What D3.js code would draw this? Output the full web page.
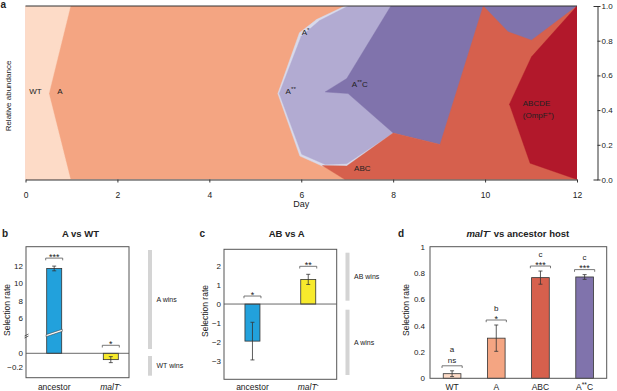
<!DOCTYPE html>
<html>
<head>
<meta charset="utf-8">
<script src="https://cdn.jsdelivr.net/npm/d3@7"></script>
<style>
  body { margin: 0; background: #fff; }
  svg { font-family: "Liberation Sans", Arial, sans-serif; }
</style>
</head>
<body>
<svg id="fig" width="617" height="391"></svg>
<script>
  // ---------- data ----------
  // panel a: Muller plot outlines, points are [day, relative abundance]
  var dayTicks = [0, 2, 4, 6, 8, 10, 12];
  var abundTicks = [0, 0.2, 0.4, 0.6, 0.8, 1];
  var shapeA = [[0, 0], [12, 0], [12, 1], [0, 1]];
  var shapeWT = [[0, 1], [0.98, 1], [0.51, 0.495], [0.98, 0], [0, 0]];
  var shapeAs = [[6.95, 1], [6.34, 0.923], [5.96, 0.846], [5.49, 0.495], [5.97, 0.135], [6.48, 0.075], [6.99, 0.072], [8.0, 0.268], [8.15, 1]];
  var shapeAss = [[7.02, 1], [6.4, 0.916], [6.0, 0.826], [5.52, 0.495], [6.01, 0.145], [6.52, 0.087], [6.99, 0.091], [8.0, 0.268], [8.15, 1]];
  var shapeAssC = [[7.95, 1], [6.99, 0.582], [6.52, 0.505], [7.02, 0.495], [8.0, 0.268], [9.02, 0.202], [12, 0], [12, 1]];
  var shapeABC = [[6.46, 0.08], [6.99, 0.078], [8.0, 0.268], [9.02, 0.202], [9.96, 1], [10.5, 0.851], [11.01, 0.803], [12, 1], [12, 0], [6.95, 0]];
  var shapeABCDE = [[12, 1], [11.01, 0.707], [10.53, 0.434], [10.98, 0.094], [12, 0]];

  // panel b: A vs WT
  var bCats = ['ancestor', 'malT'];
  var bMeans = [11.7, -0.095];
  var bErrs = [0.27, 0.045];
  var bStars = ['***', '*'];
  var bTicksHi = [6, 8, 10, 12];
  var bTicksLo = [-0.2, 0];

  // panel c: AB vs A
  var cCats = ['ancestor', 'malT'];
  var cMeans = [-1.97, 1.31];
  var cErrs = [1.0, 0.27];
  var cStars = ['*', '**'];
  var cTicks = [-3, -2, -1, 0, 1, 2];

  // panel d: malT- vs ancestor host
  var dCats = ['WT', 'A', 'ABC', 'A**C'];
  var dMeans = [0.035, 0.305, 0.765, 0.77];
  var dErrs = [0.022, 0.1, 0.05, 0.018];
  var dStars = ['ns', '*', '***', '***'];
  var dGroups = ['a', 'b', 'c', 'c'];
  var dTicks = [0, 0.2, 0.4, 0.6, 0.8, 1];

  var ink = '#222';
  var frame = '#555';
  var blue = '#22a1dc';
  var yellow = '#f7ea2c';
  var svg = d3.select('#fig');

  // text with optional superscript / italic parts
  function richText(g, x, y, parts, size, anchor) {
    var t = g.append('text').attr('x', x).attr('y', y)
      .attr('font-size', size).attr('fill', ink)
      .attr('text-anchor', anchor || 'start');
    parts.forEach(function(p) {
      var s = t.append('tspan').text(p.t);
      if (p.sup) s.attr('baseline-shift', 'super').attr('font-size', size * 0.78);
      if (p.it) s.attr('font-style', 'italic');
    });
    return t;
  }
  function catParts(c) {
    if (c === 'malT') return [{t: 'malT', it: 1}, {t: '-', sup: 1}];
    if (c === 'A**C') return [{t: 'A'}, {t: '**', sup: 1}, {t: 'C'}];
    return [{t: c}];
  }
  function styleAxis(g, size) {
    g.attr('font-family', null).attr('font-size', size);
    g.selectAll('text').attr('fill', ink);
    g.selectAll('line,path').attr('stroke', '#333');
  }

  // ---------- panel a ----------
  var xDay = d3.scaleLinear().domain([0, 12]).range([25.5, 577]);
  var yAb = d3.scaleLinear().domain([0, 1]).range([179.5, 6]);
  var outline = d3.line().x(function(d) { return xDay(d[0]); }).y(function(d) { return yAb(d[1]); });
  var muller = [
    {color: '#f4a582', pts: shapeA},
    {color: '#fddbc7', pts: shapeWT},
    {color: '#d8daeb', pts: shapeAs},
    {color: '#b2abd2', pts: shapeAss},
    {color: '#8073ac', pts: shapeAssC},
    {color: '#d6604d', pts: shapeABC},
    {color: '#b2182b', pts: shapeABCDE}
  ];
  var ga = svg.append('g');
  ga.append('clipPath').attr('id', 'clipA').append('rect')
    .attr('x', xDay(0)).attr('y', yAb(1))
    .attr('width', xDay(12) - xDay(0)).attr('height', yAb(0) - yAb(1));
  ga.append('g').attr('clip-path', 'url(#clipA)')
    .selectAll('path').data(muller).join('path')
    .attr('d', function(d) { return outline(d.pts) + 'Z'; })
    .attr('fill', function(d) { return d.color; })
    .attr('stroke', function(d) { return d.color; })
    .attr('stroke-width', 0.4);

  var mullerLabels = [
    {parts: [{t: 'WT'}], day: 0.08, ab: 0.51},
    {parts: [{t: 'A'}], day: 0.69, ab: 0.51},
    {parts: [{t: 'A'}, {t: '*', sup: 1}], day: 6.01, ab: 0.852},
    {parts: [{t: 'A'}, {t: '**', sup: 1}], day: 5.66, ab: 0.51},
    {parts: [{t: 'A'}, {t: '**', sup: 1}, {t: 'C'}], day: 7.1, ab: 0.55},
    {parts: [{t: 'ABC'}], day: 7.15, ab: 0.065},
    {parts: [{t: 'ABCDE'}], day: 10.82, ab: 0.441},
    {parts: [{t: '(OmpF'}, {t: '+', sup: 1}, {t: ')'}], day: 10.82, ab: 0.372}
  ];
  mullerLabels.forEach(function(l) {
    richText(ga, xDay(l.day), yAb(l.ab) + 3, l.parts, 8);
  });

  // frame lines (top + bottom axis)
  ga.append('line').attr('x1', xDay(0)).attr('x2', xDay(12))
    .attr('y1', yAb(1)).attr('y2', yAb(1)).attr('stroke', '#333').attr('stroke-width', 1);
  ga.append('g').attr('transform', 'translate(0,' + yAb(0) + ')')
    .call(d3.axisBottom(xDay).tickValues(dayTicks).tickSize(3).tickSizeOuter(0).tickPadding(9))
    .call(styleAxis, 8.5);
  ga.append('g').attr('transform', 'translate(597.5,0)')
    .call(d3.axisRight(yAb).tickValues(abundTicks).tickFormat(d3.format('.1f'))
      .tickSizeInner(3).tickSizeOuter(-4).tickPadding(1))
    .call(styleAxis, 8);
  ga.append('text').attr('x', (xDay(0) + xDay(12)) / 2).attr('y', 206.5)
    .attr('text-anchor', 'middle').attr('font-size', 9).attr('fill', ink).text('Day');
  ga.append('text').attr('transform', 'translate(11.3,96) rotate(-90)')
    .attr('text-anchor', 'middle').attr('font-size', 8).attr('fill', ink).text('Relative abundance');
  svg.append('text').attr('x', 0.5).attr('y', 8).attr('font-size', 10)
    .attr('font-weight', 'bold').attr('fill', ink).text('a');

  // ---------- shared bar helpers ----------
  function bracket(g, xc, y, w, star, letter) {
    g.append('path').attr('d', 'M' + (xc - w / 2) + ',' + (y + 2.2) + 'V' + y + 'H' + (xc + w / 2) + 'V' + (y + 2.2))
      .attr('fill', 'none').attr('stroke', frame).attr('stroke-width', 0.8);
    if (star === 'ns') {
      g.append('text').attr('x', xc).attr('y', y - 3).attr('text-anchor', 'middle')
        .attr('font-size', 8).attr('fill', ink).text(star);
    } else {
      g.append('text').attr('x', xc).attr('y', y + 1.8).attr('text-anchor', 'middle')
        .attr('font-size', 9).attr('fill', ink).text(star);
    }
    if (letter) {
      g.append('text').attr('x', xc).attr('y', y - (star === 'ns' ? 13.5 : 9.5)).attr('text-anchor', 'middle')
        .attr('font-size', 8).attr('fill', ink).text(letter);
    }
  }
  function errBar(g, xc, y0, y1) {
    g.append('path').attr('d', 'M' + xc + ',' + y0 + 'V' + y1 + 'M' + (xc - 2) + ',' + y0 + 'H' + (xc + 2) + 'M' + (xc - 2) + ',' + y1 + 'H' + (xc + 2))
      .attr('stroke', '#333').attr('stroke-width', 0.8).attr('fill', 'none');
  }
  function boxFrame(g, x0, x1, y0, y1) {
    g.append('rect').attr('x', x0).attr('y', y0).attr('width', x1 - x0).attr('height', y1 - y0)
      .attr('fill', 'none').attr('stroke', frame).attr('stroke-width', 1);
  }
  function sideBar(g, x, y0, y1, label) {
    g.append('rect').attr('x', x).attr('y', y0).attr('width', 4).attr('height', y1 - y0).attr('fill', '#d4d4d4');
    g.append('text').attr('x', x + 8.5).attr('y', (y0 + y1) / 2 + 2.5)
      .attr('font-size', 7).attr('fill', ink).text(label);
  }
  function panelHead(g, letter, lx, title, tx) {
    g.append('text').attr('x', lx).attr('y', 237).attr('font-size', 10)
      .attr('font-weight', 'bold').attr('fill', ink).text(letter);
    var t = richText(g, tx, 236.7, title, 9.5, 'middle');
    t.attr('font-weight', 'bold');
  }
  function yLabel(g, x, y) {
    g.append('text').attr('transform', 'translate(' + x + ',' + y + ') rotate(-90)')
      .attr('text-anchor', 'middle').attr('font-size', 8.5).attr('fill', ink).text('Selection rate');
  }

  // ---------- panel b (broken axis) ----------
  var gb = svg.append('g');
  var bx0 = 26, bx1 = 129, by0 = 246.7, by1 = 377.7;
  var xB = d3.scalePoint().domain(bCats).range([54.2, 110.8]);
  var yHi = d3.scaleLinear().domain([4, 14.2]).range([335.5, by0]);
  var yLo = d3.scaleLinear().domain([-0.366, 0.27]).range([by1, 335.3]);
  function yB(v) { return v > 0.27 ? yHi(v) : yLo(v); }
  var bw = 15;
  bCats.forEach(function(c, i) {
    var m = bMeans[i], e = bErrs[i], xc = xB(c);
    var top = yB(Math.max(m, 0)), bot = yB(Math.min(m, 0));
    gb.append('rect').attr('x', xc - bw / 2).attr('y', top).attr('width', bw).attr('height', bot - top)
      .attr('fill', i === 0 ? blue : yellow).attr('stroke', '#333').attr('stroke-width', 0.8);
    errBar(gb, xc, yB(m + e), yB(m - e));
    bracket(gb, xc, yB(Math.max(0, m + e)) - 8, bw + 2, bStars[i]);
  });
  // break mark across the tall bar
  var brk = yHi(4);
  var bxA = xB('ancestor');
  gb.append('path')
    .attr('d', 'M' + (bxA - bw / 2 - 0.6) + ',' + (brk + 1.2) + 'L' + (bxA + bw / 2 + 0.6) + ',' + (brk - 4.2) +
      'L' + (bxA + bw / 2 + 0.6) + ',' + (brk - 6.2) + 'L' + (bxA - bw / 2 - 0.6) + ',' + (brk - 0.8) + 'Z')
    .attr('fill', '#fff').attr('stroke', '#333').attr('stroke-width', 0.5);
  gb.append('line').attr('x1', bx0).attr('x2', bx1).attr('y1', yLo(0)).attr('y2', yLo(0))
    .attr('stroke', '#444').attr('stroke-width', 0.8);
  boxFrame(gb, bx0, bx1, by0, by1);
  // break symbol on the axis
  gb.append('path').attr('d', 'M' + (bx0 - 1.5) + ',' + (brk + 0.5) + 'l4,-2M' + (bx0 - 1.5) + ',' + (brk + 2.5) + 'l4,-2')
    .attr('stroke', '#333').attr('stroke-width', 0.7);
  gb.append('g').attr('transform', 'translate(' + bx0 + ',0)')
    .call(d3.axisLeft(yHi).tickValues(bTicksHi).tickSize(0).tickPadding(3))
    .call(function(g) { g.select('.domain').remove(); })
    .call(styleAxis, 8);
  gb.append('g').attr('transform', 'translate(' + bx0 + ',0)')
    .call(d3.axisLeft(yLo).tickValues(bTicksLo).tickFormat(d3.format('')).tickSize(0).tickPadding(3))
    .call(function(g) { g.select('.domain').remove(); })
    .call(styleAxis, 8);
  bCats.forEach(function(c) { richText(gb, xB(c), 390, catParts(c), 8.5, 'middle'); });
  sideBar(gb, 148, 250, 349, 'A wins');
  sideBar(gb, 148, 356, 375.7, 'WT wins');
  panelHead(gb, 'b', 2, [{t: 'A vs WT'}], 80.5);
  yLabel(gb, 9.5, 310);

  // ---------- panel c ----------
  var gc = svg.append('g');
  var cx0 = 224, cx1 = 336.7, cy0 = 249.3, cy1 = 379.3;
  var xC = d3.scalePoint().domain(cCats).range([cx0, cx1]).padding(0.51);
  var yC = d3.scaleLinear().domain([-4, 2.91]).range([cy1, cy0]);
  cCats.forEach(function(c, i) {
    var m = cMeans[i], e = cErrs[i], xc = xC(c);
    var top = yC(Math.max(m, 0)), bot = yC(Math.min(m, 0));
    gc.append('rect').attr('x', xc - bw / 2).attr('y', top).attr('width', bw).attr('height', bot - top)
      .attr('fill', i === 0 ? blue : yellow).attr('stroke', '#333').attr('stroke-width', 0.8);
    errBar(gc, xc, yC(m + e), yC(m - e));
    bracket(gc, xc, yC(Math.max(0, m + e)) - 8, bw + 2, cStars[i]);
  });
  gc.append('line').attr('x1', cx0).attr('x2', cx1).attr('y1', yC(0)).attr('y2', yC(0))
    .attr('stroke', '#444').attr('stroke-width', 0.8);
  boxFrame(gc, cx0, cx1, cy0, cy1);
  gc.append('g').attr('transform', 'translate(' + cx0 + ',0)')
    .call(d3.axisLeft(yC).tickValues(cTicks).tickFormat(d3.format('d')).tickSize(0).tickPadding(3))
    .call(function(g) { g.select('.domain').remove(); })
    .call(styleAxis, 8);
  cCats.forEach(function(c) { richText(gc, xC(c), 390, catParts(c), 8.5, 'middle'); });
  sideBar(gc, 345.5, 252.7, 300.7, 'AB wins');
  sideBar(gc, 345.5, 309.7, 375, 'A wins');
  panelHead(gc, 'c', 199.5, [{t: 'AB vs A'}], 286.7);
  yLabel(gc, 208, 311);

  // ---------- panel d ----------
  var gd = svg.append('g');
  var dx0 = 430, dx1 = 606.7, dy0 = 246.7, dy1 = 378.3;
  var dColors = ['#fddbc7', '#f4a582', '#d6604d', '#8073ac'];
  var xD = d3.scaleBand().domain(dCats).range([dx0, dx1]).paddingInner(0.6).paddingOuter(0.3);
  var yD = d3.scaleLinear().domain([0, 1]).range([dy1, dy0]);
  dCats.forEach(function(c, i) {
    var m = dMeans[i], e = dErrs[i], xc = xD(c) + xD.bandwidth() / 2;
    gd.append('rect').attr('x', xD(c)).attr('y', yD(m)).attr('width', xD.bandwidth()).attr('height', yD(0) - yD(m))
      .attr('fill', dColors[i]).attr('stroke', '#333').attr('stroke-width', 0.8);
    errBar(gd, xc, yD(m + e), yD(m - e));
    bracket(gd, xc, yD(m + e) - 5, xD.bandwidth() + 2.5, dStars[i], dGroups[i]);
  });
  boxFrame(gd, dx0, dx1, dy0, dy1);
  gd.append('g').attr('transform', 'translate(' + dx0 + ',0)')
    .call(d3.axisLeft(yD).tickValues(dTicks).tickFormat(d3.format('')).tickSize(0).tickPadding(5))
    .call(function(g) { g.select('.domain').remove(); })
    .call(styleAxis, 8);
  dCats.forEach(function(c) { richText(gd, xD(c) + xD.bandwidth() / 2, 390, catParts(c), 8.5, 'middle'); });
  panelHead(gd, 'd', 398, [{t: 'malT', it: 1}, {t: '-', sup: 1}, {t: ' vs ancestor host'}], 517.8);
  yLabel(gd, 409, 310);
</script>
</body>
</html>
